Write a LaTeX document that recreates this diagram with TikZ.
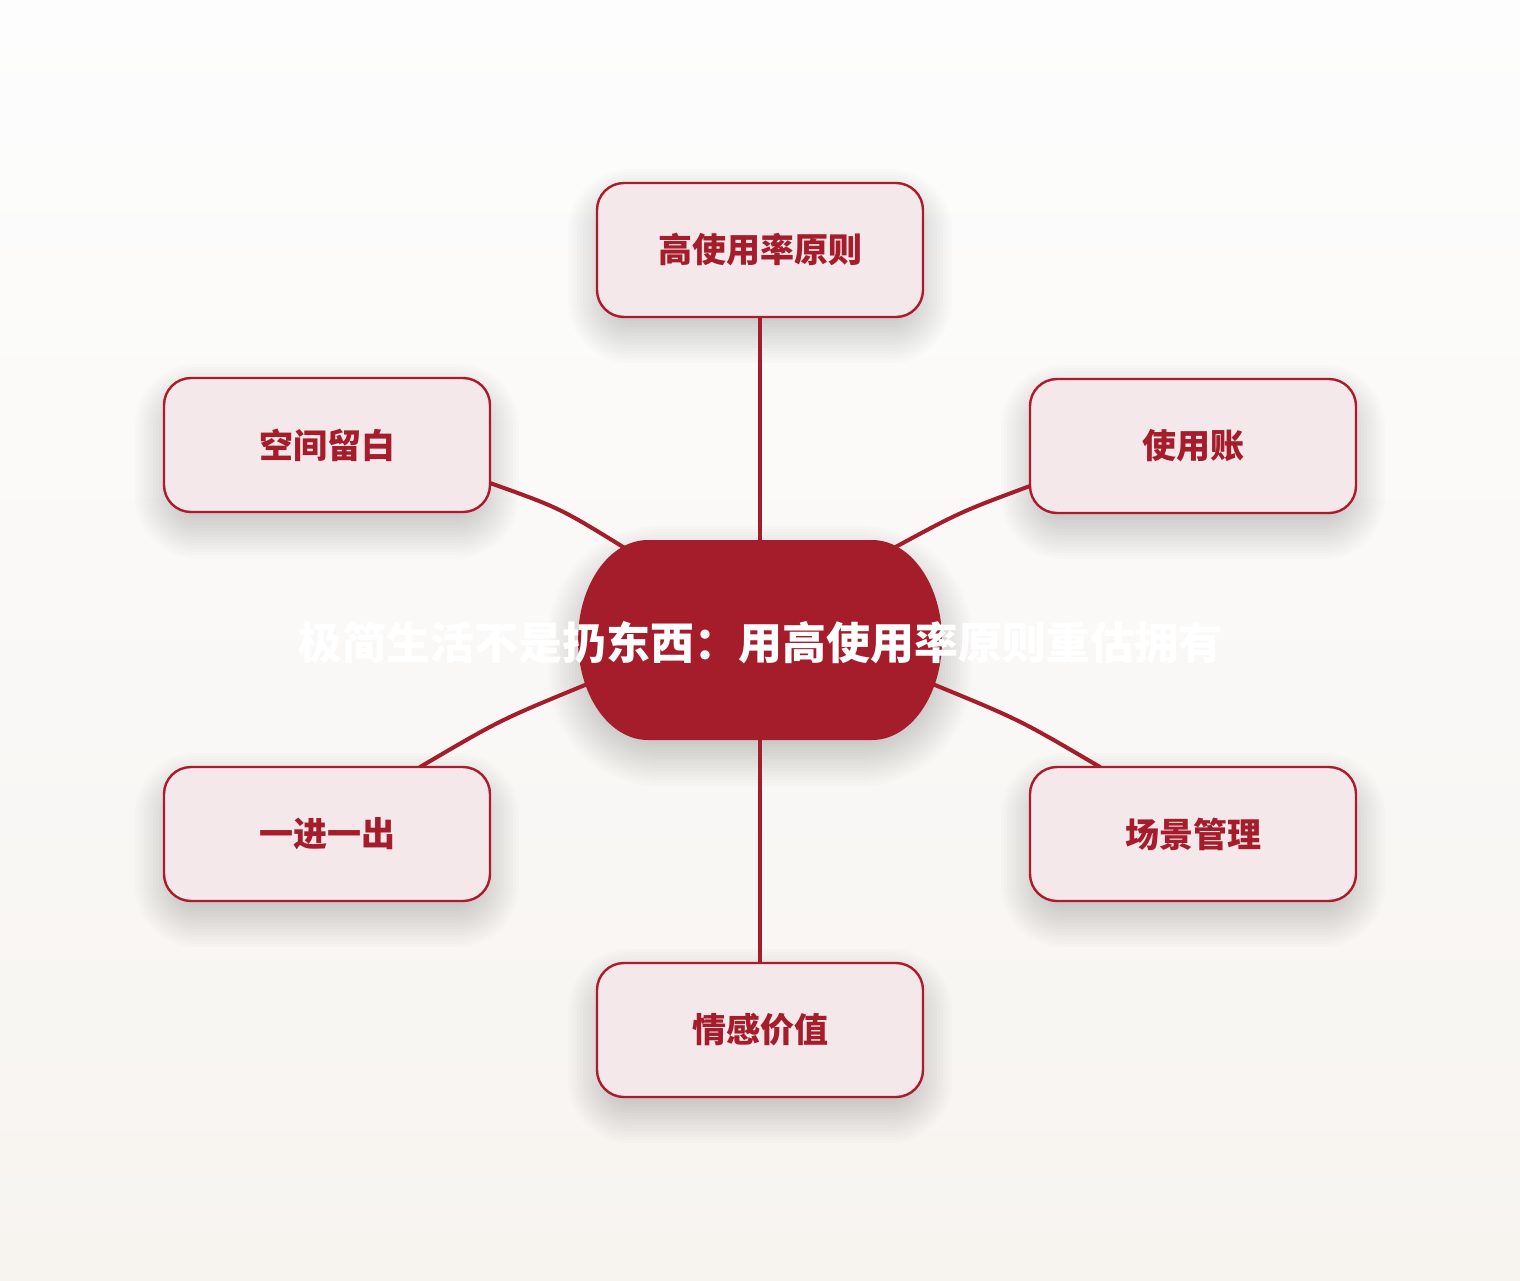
\documentclass[tikz,border=0pt]{standalone}
\usepackage{fontspec}
\newfontfamily\cjk{Noto Sans CJK SC}
\definecolor{brand}{HTML}{A51C2B}
\definecolor{boxfill}{HTML}{F4E8EB}
\definecolor{boxline}{HTML}{AD1A2C}
\definecolor{bgtop}{HTML}{FDFDFD}
\definecolor{bgbot}{HTML}{F7F4F0}
\tikzset{
  leaf/.style={draw=boxline, line width=1.2pt, fill=boxfill, rounded corners=13.5pt,
    minimum width=163pt, minimum height=67pt, inner sep=0pt,
    font=\cjk\bfseries\fontsize{17pt}{20pt}\selectfont, text=brand},
  link/.style={draw=brand, line width=2pt, line cap=round},
  hub/.style={fill=brand},
  hubtext/.style={font=\cjk\bfseries\fontsize{22pt}{26pt}\selectfont, text=white, inner sep=0pt},
  shadowlayer/.style={fill=black, opacity=0.012},
}
% soft shadow: centre x, centre y, half width, half height, corner radius (all in px)
\newcommand\softshadow[5]{%
  \foreach \i in {0,...,14}{%
    \pgfmathsetmacro\rr{(#5+\i*3)*0.5}%
    \fill[shadowlayer, rounded corners=\rr pt]
      ({#1-#3-\i*3},{#2+16-#4-\i*3}) rectangle ({#1+#3+\i*3},{#2+16+#4+\i*3});
  }%
}
\begin{document}
\begin{tikzpicture}[x=0.5pt, y=-0.5pt]
\useasboundingbox (0,0) rectangle (1520,1280);
\shade[top color=bgtop, bottom color=bgbot] (0,0) rectangle (1520,1280);

% shadows
\softshadow{760}{250}{150}{55}{20}
\softshadow{327}{445}{150}{55}{20}
\softshadow{1193}{446}{150}{55}{20}
\softshadow{327}{834}{150}{55}{20}
\softshadow{1193}{834}{150}{55}{20}
\softshadow{760}{1030}{150}{55}{20}
\softshadow{760}{640}{170}{88}{70}

% contact points
\coordinate (tT) at (760,540);
\coordinate (tB) at (760,740);
\coordinate (tLU) at (628,550);
\coordinate (tRU) at (890,550);
\coordinate (tLL) at (585,685);
\coordinate (tRL) at (935,685);
\coordinate (bLU) at (490,483);
\coordinate (bRU) at (1030,486);
\coordinate (bLL) at (420,767);
\coordinate (bRL) at (1100,767);

% connectors
\draw[link] (tT) -- (760,317);
\draw[link] (tB) -- (760,963);
\draw[link] (bLU) .. controls (560,508) .. (tLU);
\draw[link] (bRU) .. controls (960,512) .. (tRU);
\draw[link] (bLL) .. controls (500,720) .. (tLL);
\draw[link] (bRL) .. controls (1020,720) .. (tRL);

% leaf boxes
\node[leaf] (top) at (760,250) {高使用率原则};
\node[leaf] (lu) at (327,445) {空间留白};
\node[leaf] (ru) at (1193,446) {使用账};
\node[leaf] (ll) at (327,834) {一进一出};
\node[leaf] (rl) at (1193,834) {场景管理};
\node[leaf] (bot) at (760,1030) {情感价值};

% hub
\path[hub] (648,540) -- (872,540) arc[start angle=-90, end angle=90, x radius=70, y radius=100]
  -- (648,740) arc[start angle=90, end angle=270, x radius=70, y radius=100] -- cycle;
\node[hubtext] (hub) at (760,643) {极简生活不是扔东西：用高使用率原则重估拥有};
\end{tikzpicture}
\end{document}
